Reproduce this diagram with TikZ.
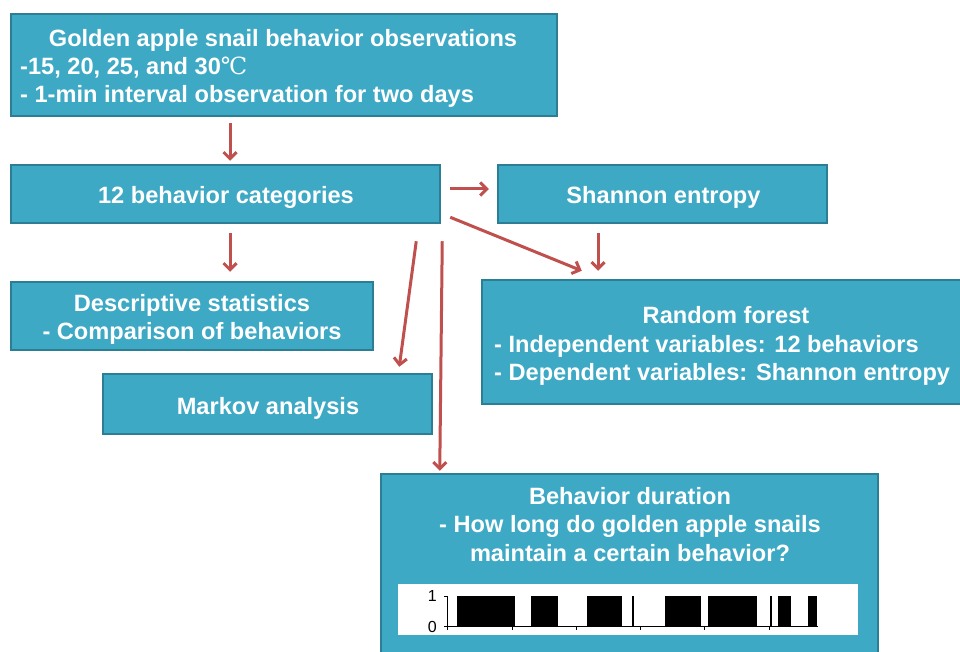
\documentclass[tikz,border=0pt]{standalone}
\usepackage{fontspec}
\setmainfont{Liberation Sans}
\newfontfamily\degfont{DejaVu Serif}
\usetikzlibrary{arrows.meta}
\definecolor{boxfill}{HTML}{3DA9C5}
\definecolor{boxline}{HTML}{2B7E93}
\definecolor{arrred}{HTML}{C0504D}
\begin{document}
\begin{tikzpicture}[x=1pt,y=-1pt,
  box/.style={draw=boxline, line width=2.5pt, fill=boxfill, inner sep=0pt},
  txt/.style={text=white, font=\fontsize{23.6}{28}\selectfont\bfseries, inner sep=0pt},
  arr/.style={draw=arrred, line width=3pt, -{Straight Barb[length=6.5pt,width=13pt]}},
  axis/.style={line width=1pt, black},
  bar/.style={fill=black, draw=none},
  lbl/.style={font=\fontsize{16}{16}\selectfont, inner sep=0pt}]
\useasboundingbox (0,0) rectangle (960,652);
\clip (0,0) rectangle (960,652);
\fill[white] (0,0) rectangle (960,652);
% boxes
\node[box, minimum width=546pt, minimum height=102pt] (obs) at (284,65) {};
\node[box, minimum width=429pt, minimum height=58pt] (cat) at (225.5,194) {};
\node[box, minimum width=329pt, minimum height=58pt] (shan) at (662.5,194) {};
\node[box, minimum width=362pt, minimum height=68pt] (desc) at (192,316) {};
\node[box, minimum width=493pt, minimum height=124pt] (rf) at (728.5,342) {};
\node[box, minimum width=329pt, minimum height=60pt] (mark) at (267.5,404) {};
\node[box, minimum width=497pt, minimum height=196pt] (dur) at (629.5,572) {};
% texts
\node[txt, anchor=base] (t1) at (283,46.5) {Golden apple snail behavior observations};
\node[txt, anchor=base west] (t2) at (20,74.5) {-15, 20, 25, and 30{\degfont\mdseries ℃}};
\node[txt, anchor=base west] (t3) at (20,102.5) {- 1-min interval observation for two days};
\node[txt, anchor=base] (tc) at (226,203.5) {12 behavior categories};
\node[txt, anchor=base] (ts) at (663.5,203.5) {Shannon entropy};
\node[txt, anchor=base] (td1) at (192,311.5) {Descriptive statistics};
\node[txt, anchor=base] (td2) at (192,339.5) {- Comparison of behaviors};
\node[txt, anchor=base] (tr1) at (726,323.5) {Random forest};
\node[txt, anchor=base west] (tr2) at (494,352.5) {- Independent variables: 12 behaviors};
\node[txt, anchor=base west] (tr3) at (494,380.5) {- Dependent variables: Shannon entropy};
\node[txt, anchor=base] (tm) at (268,414.5) {Markov analysis};
\node[txt, anchor=base] (tb1) at (630,504.5) {Behavior duration};
\node[txt, anchor=base] (tb2) at (630,532.5) {- How long do golden apple snails};
\node[txt, anchor=base] (tb3) at (630,561.5) {maintain a certain behavior?};
% arrows
\coordinate (xa) at (230,0);
\coordinate (xb) at (598,0);
\draw[arr, shorten <=6pt, shorten >=3pt] (obs.south -| xa) -- (cat.north -| xa);
\draw[arr, shorten <=9pt, shorten >=9pt] (cat.south -| xa) -- (desc.north -| xa);
\draw[arr] ([xshift=9pt,yshift=5pt]cat.east) -- ([xshift=-8pt,yshift=5pt]shan.west);
\draw[arr] ([xshift=9pt,yshift=7pt]cat.south east) -- ([xshift=101pt,yshift=8pt]rf.north west);
\draw[arr, shorten <=9pt, shorten >=8pt] (shan.south -| xb) -- (rf.north -| xb);
\draw[arr] ([xshift=-25pt,yshift=-17pt]cat.south east) -- ([xshift=-34pt,yshift=6pt]mark.north east);
\draw[arr] ([xshift=1pt,yshift=-17pt]cat.south east) -- ([xshift=60pt,yshift=2pt]dur.north west);
% chart
\node[fill=white, draw=none, minimum width=460pt, minimum height=51pt, inner sep=0pt] (chart) at (628,609.5) {};
\foreach \a/\b in {457.3/514.7, 531/557.7, 587/621.7, 632/634, 665/700.7, 708.3/756.7, 770/771.7, 778.3/791, 808/817.3}
  \fill[bar] (\a,596) rectangle (\b,626);
\draw[axis] (444,596) -- (447,596) -- (447,626);
\draw[axis] (444,626) -- (818,626);
\foreach \x in {447,512,576,640,704,769}
  \draw[axis] (\x,626) -- (\x,630);
\node[lbl, anchor=east] (l1) at (437,596) {1};
\node[lbl, anchor=east] (l0) at (437,627) {0};
\end{tikzpicture}
\end{document}
